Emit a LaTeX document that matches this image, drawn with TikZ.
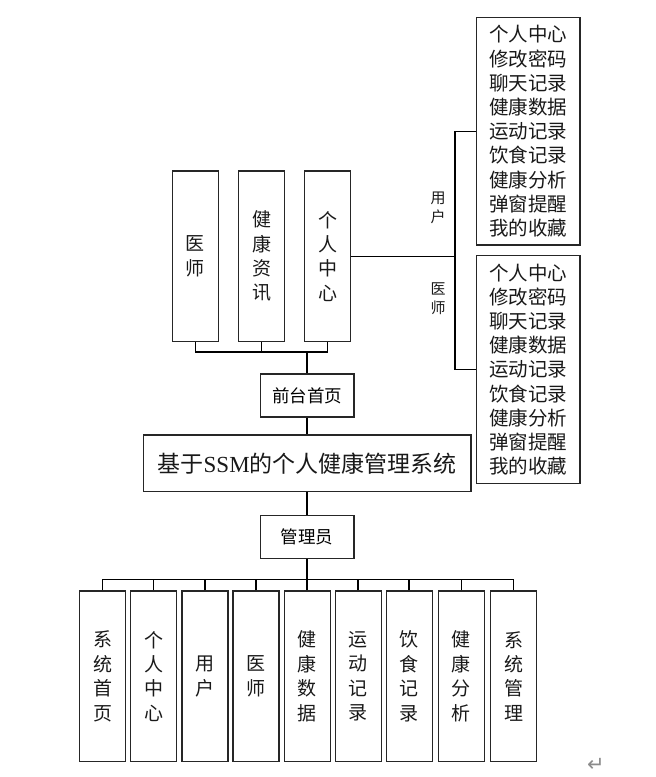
\documentclass[tikz,border=0pt]{standalone}
\usepackage{fontspec}
\setmainfont{Noto Sans CJK SC}
\newfontfamily\latserif{Liberation Serif}
\newfontfamily\symfont{DejaVu Sans}
\begin{document}
\begin{tikzpicture}[x=1pt,y=-1pt,
  box/.style={draw=black!85, line width=1.4pt, rectangle, inner sep=0pt, align=center, text=black!90},
  tall/.style={box, minimum width=46pt, minimum height=170.5pt, font=\fontsize{19}{24.4}\selectfont},
  listbox/.style={box, minimum width=103.3pt, minimum height=227.5pt, font=\fontsize{19.5}{24.2}\selectfont},
  midbox/.style={box, minimum width=93.3pt, minimum height=43pt, font=\fontsize{17.5}{20}\selectfont, text=black},
  side/.style={inner sep=0pt, align=center, font=\fontsize{15}{19}\selectfont, text=black!90},
  conn/.style={draw=black, line width=1.5pt}]
\useasboundingbox (0,0) rectangle (656,777);

% top row
\node[tall] (p1) at (195.3,256.3) {医\\师};
\node[tall] (p2) at (261.5,256.3) {健\\康\\资\\讯};
\node[tall] (p3) at (327.5,256.3) {个\\人\\中\\心};
\node[midbox] (front) at (307.2,395.5) {前台首页};

% right lists
\node[listbox] (u) at (528.3,131.3) {个人中心\\修改密码\\聊天记录\\健康数据\\运动记录\\饮食记录\\健康分析\\弹窗提醒\\我的收藏};
\node[listbox] (dr) at (528.3,369.5) {个人中心\\修改密码\\聊天记录\\健康数据\\运动记录\\饮食记录\\健康分析\\弹窗提醒\\我的收藏};
\node[side] (lu) at (438,207.5) {用\\户};
\node[side] (ld) at (438,299) {医\\师};

% main
\node[box, minimum width=327.7pt, minimum height=56.7pt, font=\fontsize{23}{26}\selectfont] (main) at (307.2,463.3) {基于{\latserif SSM}的个人健康管理系统};
\node[midbox] (admin) at (307.2,537) {管理员};

% bottom row
\node[tall] (b1) at (102.5,676.3) {系\\统\\首\\页};
\node[tall] (b2) at (153.7,676.3) {个\\人\\中\\心};
\node[tall] (b3) at (204.9,676.3) {用\\户};
\node[tall] (b4) at (256.0,676.3) {医\\师};
\node[tall] (b5) at (307.2,676.3) {健\\康\\数\\据};
\node[tall] (b6) at (358.2,676.3) {运\\动\\记\\录};
\node[tall] (b7) at (409.2,676.3) {饮\\食\\记\\录};
\node[tall] (b8) at (461.3,676.3) {健\\康\\分\\析};
\node[tall] (b9) at (513.5,676.3) {系\\统\\管\\理};

\node[inner sep=0pt, text=black!45, font=\symfont\fontsize{21}{21}\selectfont] (ret) at (596,765) {↵};

% top connectors
\coordinate (tj) at (307.2,352);
\draw[conn] (p1.south) |- (tj) -| (p3.south);
\draw[conn] (p2.south) -- (p2.south |- tj);
\draw[conn] (tj) -- (front.north);

% right connectors
\coordinate (rj) at (455,256.3);
\draw[conn] (p3.east) -- (rj);
\draw[conn] (u.west) -| (rj) |- (dr.west);

% main trunk
\draw[conn] (front.south) -- (main.north);
\draw[conn] (main.south) -- (admin.north);
\coordinate (bj) at (307.2,579.3);
\draw[conn] (admin.south) -- (bj);
\draw[conn] (b1.north) |- (bj) -| (b9.north);
\foreach \k in {2,...,8}{
  \draw[conn] (b\k.north) -- (b\k.north |- bj);
}
\end{tikzpicture}
\end{document}
